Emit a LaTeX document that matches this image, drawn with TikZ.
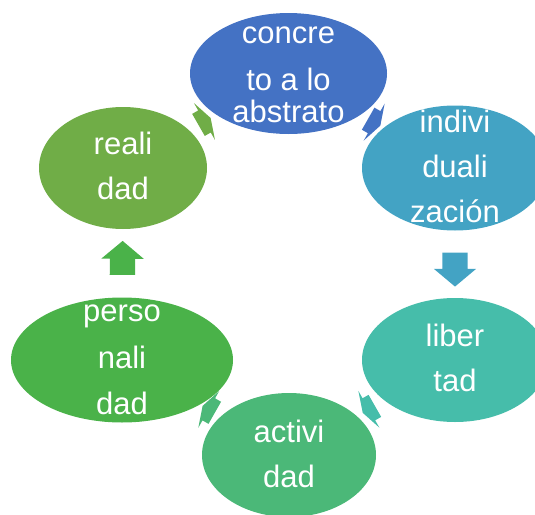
\documentclass[tikz,border=0pt]{standalone}
\usepackage{fontspec}
\setmainfont{Liberation Sans}
\usetikzlibrary{shapes.geometric,shapes.arrows,backgrounds}

\definecolor{cconc}{RGB}{68,114,196}
\definecolor{cindiv}{RGB}{67,163,196}
\definecolor{cliber}{RGB}{70,189,170}
\definecolor{cactiv}{RGB}{75,184,120}
\definecolor{cperso}{RGB}{74,178,73}
\definecolor{creali}{RGB}{112,173,71}

\begin{document}
\begin{tikzpicture} [
    x=1pt, y=-1pt,
    cyc/.style={ellipse, inner sep=0pt, outer sep=0pt},
    txt/.style={text=white, align=center, font=\fontsize{31}{45}\selectfont},
    blk/.style={single arrow, minimum height=34pt, minimum width=0pt,
        single arrow head extend=8.5pt, single arrow tip angle=100,
        inner xsep=0pt, inner ysep=12.5pt, midway, sloped, allow upside down},
    blkshort/.style={blk, minimum height=14pt, single arrow tip angle=143}
    ]
    \clip (0,0) rectangle (535,514);

    %Nodes
    \node[cyc, fill=cconc,  minimum width=197pt, minimum height=121pt] (conc)  at (288.5,73.5) {};
    \node[cyc, fill=cindiv, minimum width=186pt, minimum height=125pt] (indiv) at (455,168) {};
    \node[cyc, fill=cliber, minimum width=186pt, minimum height=124pt] (liber) at (455,360) {};
    \node[cyc, fill=cactiv, minimum width=174pt, minimum height=124pt] (activ) at (289,455) {};
    \node[cyc, fill=cperso, minimum width=222pt, minimum height=125pt] (perso) at (122,360) {};
    \node[cyc, fill=creali, minimum width=168pt, minimum height=122pt] (reali) at (123,168) {};

    %Texts
    \node[txt, yshift=-1pt] (conc-t)  at (conc)  {concre\\[2pt] to a lo\\[-13.3pt] abstrato};
    \node[txt, yshift=2pt]  (indiv-t) at (indiv) {indivi\\ duali\\ zación};
    \node[txt, yshift=2pt]  (liber-t) at (liber) {liber\\ tad};
    \node[txt, yshift=1pt]  (activ-t) at (activ) {activi\\ dad};
    \node[txt]              (perso-t) at (perso) {perso\\[1.5pt] nali\\[1.5pt] dad};
    \node[txt, yshift=2pt]  (reali-t) at (reali) {reali\\ dad};

    %Arrows
    \begin{scope}[on background layer]
    \path (conc) -- (indiv) node[blkshort, fill=cconc]  (a1) {};
    \path (indiv) -- (liber) node[blk, fill=cindiv] (a2) {};
    \path (liber) -- (activ) node[blkshort, fill=cliber] (a3) {};
    \path (activ) -- (perso) node[blkshort, fill=cactiv] (a4) {};
    \path (perso) -- (reali) node[blk, fill=cperso] (a5) {};
    \path (reali) -- (conc) node[blkshort, fill=creali] (a6) {};
    \end{scope}

\end{tikzpicture}
\end{document}
